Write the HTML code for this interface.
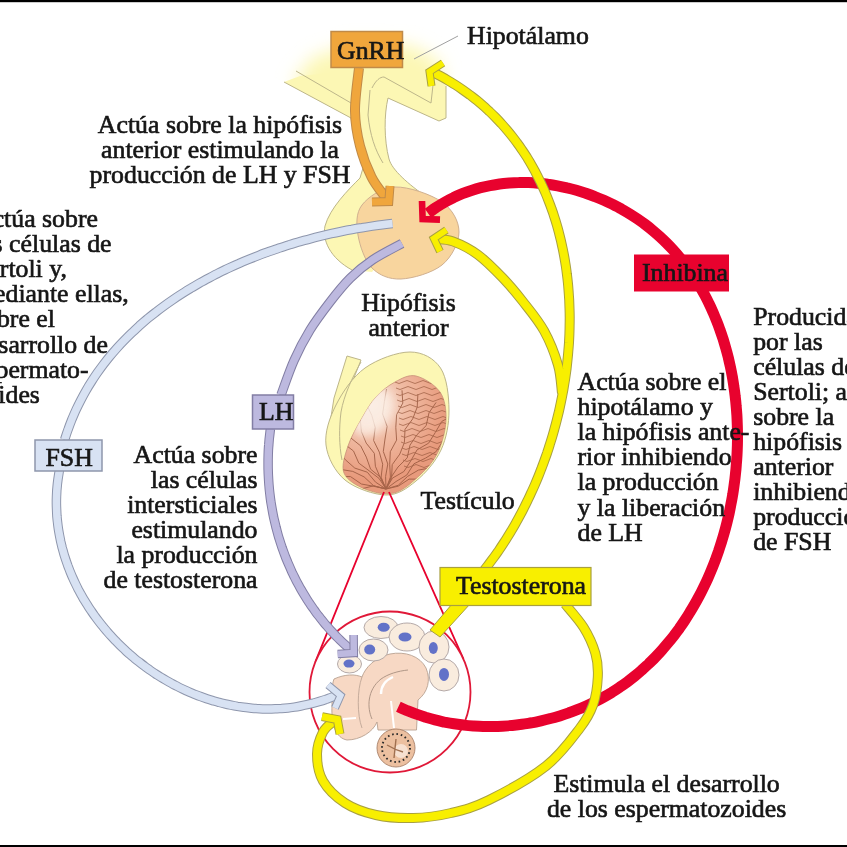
<!DOCTYPE html>
<html><head><meta charset="utf-8"><style>
html,body{margin:0;padding:0;background:#fff;width:847px;height:847px;overflow:hidden}
svg{display:block;filter:blur(0.7px)}
text{font-family:"Liberation Serif",serif}
</style></head><body>
<svg width="847" height="847" viewBox="0 0 847 847">
<rect width="847" height="847" fill="#fff"/>
<defs>
<radialGradient id="hypg" gradientUnits="userSpaceOnUse" cx="375" cy="100" r="85">
 <stop offset="0" stop-color="#fcf5b6"/>
 <stop offset="0.5" stop-color="#fcf5b6"/>
 <stop offset="1" stop-color="#fcf5b6" stop-opacity="0"/>
</radialGradient>
<radialGradient id="testg" gradientUnits="userSpaceOnUse" cx="372" cy="405" r="75">
 <stop offset="0" stop-color="#fbeee6"/>
 <stop offset="0.45" stop-color="#f0bca4"/>
 <stop offset="1" stop-color="#e89a7c"/>
</radialGradient>
<filter id="soft2" x="-50%" y="-50%" width="200%" height="200%"><feGaussianBlur stdDeviation="5"/></filter>
<filter id="soft" x="-50%" y="-50%" width="200%" height="200%"><feGaussianBlur stdDeviation="9"/></filter>
</defs><clipPath id="hypclip"><path d="M284 82 L351 118 L388 98 L439 121 L446 118 L446 86 L520 0 L200 0 L230 60 Z"/></clipPath><g clip-path="url(#hypclip)"><path d="M292 84 L312 58 L352 44 L412 46 L440 62 L446 120 L390 100 L351 118 Z" fill="#fcf7b4" filter="url(#soft)"/></g><path d="M284 82 L351 118 C355 135 360 155 363 168 L360 178 C348 190 330 208 325 226 C322 240 330 258 352 270 L372 272 L400 240 L428 198 C408 184 392 170 389 159 C384 140 384 115 388 98 L439 121 L446 118 L446 86 C440 80 430 74 420 72 L400 70 L340 72 L300 76 Z" fill="#fcf7b4"/><path d="M284 82 L351 118 C355 135 360 155 363 168 L360 178 C348 190 330 208 325 226 C322 240 330 258 352 270" fill="none" stroke="#bdb68a" stroke-width="1"/><path d="M428 198 C408 184 392 170 389 159 C384 140 384 115 388 98 L439 121 L446 118 L446 86" fill="none" stroke="#bdb68a" stroke-width="1"/><path d="M296 71 L351 103" fill="none" stroke="#bdb68a" stroke-width="1"/><path d="M370 90 L368 115 C370 135 375 150 383 163 M372 88 C376 80 380 77 384 77 L431 103 L433 85" fill="none" stroke="#bdb68a" stroke-width="1"/><path d="M395.0 187.0 C408.3 186.5 431.3 194.5 442.0 202.0 C452.7 209.5 459.0 221.5 459.0 232.0 C459.0 242.5 451.7 257.2 442.0 265.0 C432.3 272.8 412.7 278.5 401.0 279.0 C389.3 279.5 379.2 275.3 372.0 268.0 C364.8 260.7 359.7 245.5 358.0 235.0 C356.3 224.5 355.8 213.0 362.0 205.0 C368.2 197.0 381.7 187.5 395.0 187.0Z" fill="#f8d59e" stroke="#d0b090" stroke-width="1"/><path d="M458 36 L414 59" stroke="#a0a0a0" stroke-width="1"/><path d="M347 356 L361 360 L346 398 L339 440 L328 436 L334 398 Z" fill="#fcf7b4" stroke="#bdb68a" stroke-width="1"/><path d="M410.0 352.0 C422.6 352.0 434.0 358.3 440.5 368.0 C447.0 377.7 448.9 396.3 449.0 410.0 C449.1 423.7 446.5 438.2 441.0 450.0 C435.5 461.8 425.2 473.5 416.0 481.0 C406.8 488.5 397.8 495.2 386.0 495.0 C374.2 494.8 355.0 488.3 345.0 480.0 C335.0 471.7 327.5 457.5 326.0 445.0 C324.5 432.5 329.5 417.8 336.0 405.0 C342.5 392.2 352.7 376.8 365.0 368.0 C377.3 359.2 397.4 352.0 410.0 352.0Z" fill="#fcf7b4" stroke="#bdb68a" stroke-width="1"/><path d="M361 362 C352 378 344 395 341 412 C339 428 339 445 342 460" fill="none" stroke="#bdb68a" stroke-width="1"/><path d="M416.0 376.0 C423.5 377.7 435.0 384.7 440.0 392.0 C445.0 399.3 446.3 410.0 446.0 420.0 C445.7 430.0 442.3 442.8 438.0 452.0 C433.7 461.2 427.3 468.2 420.0 475.0 C412.7 481.8 403.2 490.7 394.0 493.0 C384.8 495.3 373.3 492.3 365.0 489.0 C356.7 485.7 346.8 480.2 344.0 473.0 C341.2 465.8 345.0 455.2 348.0 446.0 C351.0 436.8 357.3 426.2 362.0 418.0 C366.7 409.8 370.5 403.0 376.0 397.0 C381.5 391.0 388.3 385.5 395.0 382.0 C401.7 378.5 408.5 374.3 416.0 376.0Z" fill="url(#testg)" stroke="#c89078" stroke-width="0.8"/><clipPath id="tclip"><path d="M416.0 376.0 C423.5 377.7 435.0 384.7 440.0 392.0 C445.0 399.3 446.3 410.0 446.0 420.0 C445.7 430.0 442.3 442.8 438.0 452.0 C433.7 461.2 427.3 468.2 420.0 475.0 C412.7 481.8 403.2 490.7 394.0 493.0 C384.8 495.3 373.3 492.3 365.0 489.0 C356.7 485.7 346.8 480.2 344.0 473.0 C341.2 465.8 345.0 455.2 348.0 446.0 C351.0 436.8 357.3 426.2 362.0 418.0 C366.7 409.8 370.5 403.0 376.0 397.0 C381.5 391.0 388.3 385.5 395.0 382.0 C401.7 378.5 408.5 374.3 416.0 376.0Z"/></clipPath><g clip-path="url(#tclip)"><g stroke="#9a5a40" stroke-width="1" fill="none" opacity="0.85"><path d="M386 489 L373.7 485.8 L360.9 489.0 L348.6 485.7 L336.4 482.5 L323.5 485.7 L311.3 482.4 L299.0 479.3 L286.2 482.5"/><path d="M386 489 L373.8 486.3 L361.4 484.0 L350.5 476.6 L337.6 476.3 L325.3 474.0 L314.4 466.6 L301.5 466.3 L289.2 463.9"/><path d="M386 489 L373.7 485.8 L364.1 476.9 L352.8 471.4 L340.0 469.3 L330.4 460.5 L319.1 455.0 L306.3 452.9 L296.7 444.0"/><path d="M386 489 L375.5 482.1 L367.3 472.2 L354.8 468.1 L345.4 459.8 L337.2 449.9 L324.7 445.8 L315.3 437.4 L307.0 427.6"/><path d="M386 489 L379.0 478.4 L369.0 470.7 L358.8 463.1 L353.5 451.0 L343.4 443.3 L333.3 435.6 L327.9 423.5 L317.8 415.9"/><path d="M386 489 L380.8 477.5 L370.6 469.2 L366.3 457.1 L360.7 445.9 L350.4 437.6 L346.2 425.4 L340.5 414.2 L330.2 406.0"/><path d="M386 489 L380.3 477.8 L375.4 466.3 L374.3 453.3 L366.2 443.1 L361.4 431.5 L360.2 418.5 L352.1 408.3 L347.4 396.8"/><path d="M386 489 L381.1 477.2 L382.7 464.2 L379.3 452.1 L373.6 440.5 L375.2 427.4 L371.8 415.4 L366.2 403.7 L367.8 390.7"/><path d="M386 489 L385.6 476.5 L387.8 464.0 L383.3 451.5 L385.0 439.0 L387.1 426.5 L382.6 414.0 L384.4 401.5 L386.5 389.0"/><path d="M386 489 L390.4 477.1 L389.7 464.3 L390.3 451.7 L396.6 440.1 L395.8 427.3 L396.6 414.7 L402.8 403.1 L402.0 390.3"/><path d="M386 489 L391.6 477.7 L392.2 464.7 L399.8 454.1 L404.4 442.5 L405.0 429.4 L412.7 418.9 L417.2 407.2 L417.9 394.2"/><path d="M386 489 L391.0 477.4 L398.0 467.0 L407.2 457.9 L410.0 445.1 L417.0 434.7 L426.2 425.6 L429.0 412.8 L436.1 402.4"/><path d="M386 489 L392.5 478.1 L403.9 471.5 L410.8 460.8 L417.1 449.8 L428.6 443.2 L435.3 432.5 L441.7 421.5 L453.2 414.9"/><path d="M386 489 L396.0 481.5 L406.8 475.0 L413.9 463.8 L425.4 458.2 L436.1 451.6 L443.2 440.5 L454.8 434.9 L465.4 428.2"/><path d="M386 489 L398.2 485.3 L407.6 476.4 L418.4 470.1 L431.3 467.7 L440.7 458.7 L451.5 452.5 L464.4 450.1 L473.8 441.1"/><path d="M386 489 L398.2 486.2 L409.1 479.1 L422.2 479.2 L434.0 474.8 L444.9 467.9 L458.0 468.0 L469.7 463.5 L480.6 456.6"/><path d="M395 382 q4 3 8 0 q4 -3 8 0 q4 3 8 0 q4 -3 8 0 q4 3 8 0 q4 -3 8 0" opacity="0.8"/><path d="M396 388 q4 3 8 0 q4 -3 8 0 q4 3 8 0 q4 -3 8 0 q4 3 8 0 q4 -3 8 0" opacity="0.8"/><path d="M396 394 q4 3 8 0 q4 -3 8 0 q4 3 8 0 q4 -3 8 0 q4 3 8 0 q4 -3 8 0" opacity="0.8"/><path d="M397 400 q4 3 8 0 q4 -3 8 0 q4 3 8 0 q4 -3 8 0 q4 3 8 0 q4 -3 8 0" opacity="0.8"/><path d="M398 406 q4 3 8 0 q4 -3 8 0 q4 3 8 0 q4 -3 8 0 q4 3 8 0 q4 -3 8 0" opacity="0.8"/><path d="M398 412 q4 3 8 0 q4 -3 8 0 q4 3 8 0 q4 -3 8 0 q4 3 8 0 q4 -3 8 0" opacity="0.8"/><path d="M399 418 q4 3 8 0 q4 -3 8 0 q4 3 8 0 q4 -3 8 0 q4 3 8 0 q4 -3 8 0" opacity="0.8"/><path d="M399 424 q4 3 8 0 q4 -3 8 0 q4 3 8 0 q4 -3 8 0 q4 3 8 0 q4 -3 8 0" opacity="0.8"/><path d="M400 430 q4 3 8 0 q4 -3 8 0 q4 3 8 0 q4 -3 8 0 q4 3 8 0 q4 -3 8 0" opacity="0.8"/><path d="M401 436 q4 3 8 0 q4 -3 8 0 q4 3 8 0 q4 -3 8 0 q4 3 8 0 q4 -3 8 0" opacity="0.8"/><path d="M401 442 q4 3 8 0 q4 -3 8 0 q4 3 8 0 q4 -3 8 0 q4 3 8 0 q4 -3 8 0" opacity="0.8"/><path d="M402 448 q4 3 8 0 q4 -3 8 0 q4 3 8 0 q4 -3 8 0 q4 3 8 0 q4 -3 8 0" opacity="0.8"/><path d="M402 454 q4 3 8 0 q4 -3 8 0 q4 3 8 0 q4 -3 8 0 q4 3 8 0 q4 -3 8 0" opacity="0.8"/><path d="M403 460 q4 3 8 0 q4 -3 8 0 q4 3 8 0 q4 -3 8 0 q4 3 8 0 q4 -3 8 0" opacity="0.8"/><path d="M404 466 q4 3 8 0 q4 -3 8 0 q4 3 8 0 q4 -3 8 0 q4 3 8 0 q4 -3 8 0" opacity="0.8"/></g><ellipse cx="372" cy="412" rx="18" ry="26" transform="rotate(35 372 412)" fill="#fbeee4" opacity="0.85" filter="url(#soft2)"/></g><path d="M384 492 L315.4 661.8 M389 492 L463.5 659.2" stroke="#e8022e" stroke-width="1.8" fill="none"/><circle cx="390" cy="692" r="80.5" fill="#ffffff" stroke="#e01838" stroke-width="1.8"/><path d="M334 679 C345 674 355 674 362 677 C365 668 375 657 390 654 C405 651 420 656 426 668 C431 680 428 692 418 700 L416.5 730 L378 730 L377 722 C373 732 360 740 347 740 C336 738 331 725 332 705 C332 692 332 684 334 679 Z" fill="#f7d8c4" stroke="#b8a090" stroke-width="0.9"/><path d="M372 719 C367 708 367 690 381 679 C388 674 398 671 408 670" fill="none" stroke="#a89080" stroke-width="0.9"/><path d="M381 694 C381 686 386 680 393 677" fill="none" stroke="#ffffff" stroke-width="2.4"/><path d="M391 701 L394 728" fill="none" stroke="#ffffff" stroke-width="2"/><path d="M343 719 L356 718" fill="none" stroke="#ffffff" stroke-width="1.8"/><path d="M362 677 C357 690 357 715 362 728" fill="none" stroke="#b8a090" stroke-width="0.8"/><circle cx="396" cy="748" r="19" fill="#ecc0a0" stroke="#a88068" stroke-width="0.9"/><circle cx="401" cy="751" r="7" fill="#f8e4d6" opacity="0.9"/><circle cx="396" cy="748" r="14" fill="none" stroke="#2a2a2a" stroke-width="1.9" stroke-dasharray="1.6 2.8"/><path d="M387 745 C392 748 396 750 403 752 M396 739 L394 758" stroke="#a07050" stroke-width="1.4" fill="none"/><ellipse cx="381" cy="627.5" rx="17" ry="11" fill="#f9ecde" stroke="#aca0a0" stroke-width="0.9"/><ellipse cx="383.7" cy="627.3" rx="6" ry="4.5" fill="#6272c8"/><ellipse cx="407" cy="637" rx="18" ry="14" fill="#f9ecde" stroke="#aca0a0" stroke-width="0.9"/><ellipse cx="405" cy="637" rx="6.5" ry="4.5" fill="#6272c8"/><ellipse cx="373.5" cy="650" rx="14.5" ry="11" fill="#f9ecde" stroke="#aca0a0" stroke-width="0.9"/><ellipse cx="369.7" cy="649.6" rx="5.5" ry="5" fill="#6272c8"/><ellipse cx="434" cy="647" rx="15" ry="16" fill="#f9ecde" stroke="#aca0a0" stroke-width="0.9"/><ellipse cx="433.3" cy="648" rx="4.5" ry="6" fill="#6272c8"/><ellipse cx="349.5" cy="664" rx="12" ry="9" fill="#f9ecde" stroke="#aca0a0" stroke-width="0.9"/><ellipse cx="349" cy="663.6" rx="5.5" ry="4" fill="#6272c8"/><ellipse cx="444" cy="675" rx="15" ry="16" fill="#f9ecde" stroke="#aca0a0" stroke-width="0.9"/><ellipse cx="444" cy="674.4" rx="5" ry="6.5" fill="#6272c8"/><path d="M392.5 223.5 C390.8 223.7 385.8 224.3 382.4 224.7 C379.0 225.1 375.6 225.6 372.2 226.1 C368.8 226.6 365.4 227.1 362.0 227.7 C358.6 228.2 355.1 228.8 351.7 229.5 C348.3 230.1 344.8 230.8 341.4 231.5 C337.9 232.2 334.5 232.9 331.0 233.7 C327.6 234.5 324.1 235.3 320.6 236.1 C317.2 237.0 313.7 237.9 310.3 238.8 C306.8 239.7 303.3 240.7 299.9 241.6 C296.4 242.6 293.0 243.7 289.5 244.7 C286.1 245.8 282.7 246.9 279.2 248.1 C275.8 249.2 272.4 250.4 269.0 251.6 C265.6 252.8 262.2 254.1 258.8 255.4 C255.4 256.7 252.1 258.0 248.7 259.4 C245.4 260.7 242.0 262.1 238.7 263.6 C235.4 265.0 232.1 266.5 228.9 268.0 C225.6 269.6 222.3 271.1 219.1 272.7 C215.9 274.3 212.7 276.0 209.5 277.7 C206.3 279.4 203.1 281.1 200.0 282.8 C196.9 284.6 193.8 286.4 190.7 288.3 C187.6 290.1 184.6 292.0 181.6 293.9 C178.6 295.8 175.6 297.8 172.7 299.8 C169.7 301.8 166.8 303.9 164.0 306.0 C161.1 308.1 158.3 310.2 155.5 312.4 C152.7 314.5 149.9 316.8 147.2 319.0 C144.5 321.3 141.9 323.6 139.2 325.9 C136.6 328.3 134.0 330.7 131.5 333.1 C129.0 335.5 126.5 338.0 124.1 340.5 C121.6 343.0 119.2 345.6 116.9 348.2 C114.6 350.8 112.3 353.4 110.0 356.1 C107.8 358.8 105.6 361.6 103.5 364.3 C101.4 367.1 99.3 370.0 97.3 372.8 C95.3 375.7 93.4 378.6 91.5 381.6 C89.6 384.5 87.8 387.5 86.0 390.6 C84.3 393.6 82.6 396.7 80.9 399.9 C79.3 403.0 77.7 406.2 76.2 409.4 C74.7 412.7 73.3 416.0 71.9 419.3 C70.6 422.6 69.3 426.0 68.1 429.4 C66.8 432.8 65.2 438.1 64.6 439.8" fill="none" stroke="#8e96ac" stroke-width="9.5" stroke-linecap="butt"/><path d="M392.5 223.5 C390.8 223.7 385.8 224.3 382.4 224.7 C379.0 225.1 375.6 225.6 372.2 226.1 C368.8 226.6 365.4 227.1 362.0 227.7 C358.6 228.2 355.1 228.8 351.7 229.5 C348.3 230.1 344.8 230.8 341.4 231.5 C337.9 232.2 334.5 232.9 331.0 233.7 C327.6 234.5 324.1 235.3 320.6 236.1 C317.2 237.0 313.7 237.9 310.3 238.8 C306.8 239.7 303.3 240.7 299.9 241.6 C296.4 242.6 293.0 243.7 289.5 244.7 C286.1 245.8 282.7 246.9 279.2 248.1 C275.8 249.2 272.4 250.4 269.0 251.6 C265.6 252.8 262.2 254.1 258.8 255.4 C255.4 256.7 252.1 258.0 248.7 259.4 C245.4 260.7 242.0 262.1 238.7 263.6 C235.4 265.0 232.1 266.5 228.9 268.0 C225.6 269.6 222.3 271.1 219.1 272.7 C215.9 274.3 212.7 276.0 209.5 277.7 C206.3 279.4 203.1 281.1 200.0 282.8 C196.9 284.6 193.8 286.4 190.7 288.3 C187.6 290.1 184.6 292.0 181.6 293.9 C178.6 295.8 175.6 297.8 172.7 299.8 C169.7 301.8 166.8 303.9 164.0 306.0 C161.1 308.1 158.3 310.2 155.5 312.4 C152.7 314.5 149.9 316.8 147.2 319.0 C144.5 321.3 141.9 323.6 139.2 325.9 C136.6 328.3 134.0 330.7 131.5 333.1 C129.0 335.5 126.5 338.0 124.1 340.5 C121.6 343.0 119.2 345.6 116.9 348.2 C114.6 350.8 112.3 353.4 110.0 356.1 C107.8 358.8 105.6 361.6 103.5 364.3 C101.4 367.1 99.3 370.0 97.3 372.8 C95.3 375.7 93.4 378.6 91.5 381.6 C89.6 384.5 87.8 387.5 86.0 390.6 C84.3 393.6 82.6 396.7 80.9 399.9 C79.3 403.0 77.7 406.2 76.2 409.4 C74.7 412.7 73.3 416.0 71.9 419.3 C70.6 422.6 69.3 426.0 68.1 429.4 C66.8 432.8 65.2 438.1 64.6 439.8" fill="none" stroke="#d8e2f3" stroke-width="7.5" stroke-linecap="butt"/><path d="M59.3 470.6 C59.2 471.7 58.6 475.0 58.3 477.2 C57.9 479.4 57.7 481.6 57.4 483.8 C57.2 486.0 57.0 488.2 56.8 490.4 C56.7 492.5 56.6 494.7 56.5 496.9 C56.4 499.1 56.4 501.2 56.4 503.4 C56.4 505.5 56.5 507.7 56.6 509.8 C56.7 512.0 56.8 514.1 56.9 516.3 C57.1 518.4 57.3 520.5 57.6 522.7 C57.8 524.8 58.1 526.9 58.4 529.0 C58.7 531.1 59.1 533.2 59.5 535.3 C59.9 537.4 60.3 539.5 60.7 541.5 C61.2 543.6 61.7 545.7 62.2 547.7 C62.8 549.8 63.3 551.8 63.9 553.8 C64.5 555.9 65.2 557.9 65.8 559.9 C66.5 561.9 67.2 563.9 67.9 565.9 C68.7 567.9 69.4 569.9 70.2 571.8 C71.0 573.8 71.8 575.7 72.7 577.7 C73.5 579.6 74.4 581.5 75.4 583.5 C76.3 585.4 77.2 587.3 78.2 589.2 C79.2 591.0 80.2 592.9 81.2 594.8 C82.3 596.6 83.3 598.5 84.4 600.3 C85.5 602.1 86.6 603.9 87.8 605.7 C88.9 607.5 90.1 609.3 91.3 611.0 C92.5 612.8 93.7 614.6 95.0 616.3 C96.2 618.0 97.5 619.7 98.8 621.4 C100.1 623.1 101.4 624.8 102.8 626.4 C104.1 628.1 105.5 629.7 106.9 631.3 C108.3 633.0 109.7 634.6 111.2 636.1 C112.6 637.7 114.1 639.3 115.6 640.8 C117.1 642.4 118.6 643.9 120.1 645.4 C121.6 646.9 123.2 648.4 124.8 649.8 C126.3 651.3 127.9 652.7 129.5 654.1 C131.2 655.5 132.8 656.9 134.4 658.3 C136.1 659.7 137.8 661.0 139.5 662.3 C141.1 663.6 142.8 664.9 144.6 666.2 C146.3 667.5 148.0 668.7 149.8 670.0 C151.5 671.2 153.3 672.4 155.1 673.6 C156.9 674.7 158.7 675.9 160.5 677.0 C162.3 678.1 164.2 679.2 166.0 680.3 C167.9 681.4 169.7 682.4 171.6 683.4 C173.5 684.5 175.4 685.4 177.3 686.4 C179.2 687.4 181.1 688.3 183.0 689.2 C184.9 690.1 186.9 691.0 188.8 691.8 C190.8 692.7 192.8 693.5 194.7 694.3 C196.7 695.1 198.7 695.9 200.7 696.6 C202.7 697.3 204.7 698.0 206.7 698.7 C208.7 699.4 210.7 700.0 212.7 700.6 C214.8 701.2 216.8 701.8 218.8 702.3 C220.9 702.9 222.9 703.4 225.0 703.9 C227.1 704.4 229.1 704.8 231.2 705.2 C233.3 705.6 235.3 706.0 237.4 706.4 C239.5 706.7 241.6 707.0 243.7 707.3 C245.8 707.6 247.9 707.8 250.0 708.0 C252.1 708.3 254.2 708.4 256.3 708.6 C258.4 708.7 260.5 708.8 262.6 708.9 C264.7 708.9 266.8 709.0 268.9 709.0 C271.1 709.0 273.2 708.9 275.3 708.8 C277.4 708.8 279.5 708.6 281.6 708.5 C283.8 708.3 285.9 708.1 288.0 707.9 C290.1 707.7 292.2 707.4 294.3 707.1 C296.5 706.8 298.6 706.4 300.7 706.0 C302.8 705.6 304.9 705.2 307.0 704.7 C309.1 704.2 311.2 703.7 313.3 703.2 C315.4 702.6 317.5 702.0 319.6 701.4 C321.7 700.8 323.8 700.1 325.8 699.4 C327.9 698.6 330.0 697.9 332.1 697.1 C334.1 696.2 337.2 694.9 338.3 694.5" fill="none" stroke="#8e96ac" stroke-width="9.5" stroke-linecap="butt"/><path d="M59.3 470.6 C59.2 471.7 58.6 475.0 58.3 477.2 C57.9 479.4 57.7 481.6 57.4 483.8 C57.2 486.0 57.0 488.2 56.8 490.4 C56.7 492.5 56.6 494.7 56.5 496.9 C56.4 499.1 56.4 501.2 56.4 503.4 C56.4 505.5 56.5 507.7 56.6 509.8 C56.7 512.0 56.8 514.1 56.9 516.3 C57.1 518.4 57.3 520.5 57.6 522.7 C57.8 524.8 58.1 526.9 58.4 529.0 C58.7 531.1 59.1 533.2 59.5 535.3 C59.9 537.4 60.3 539.5 60.7 541.5 C61.2 543.6 61.7 545.7 62.2 547.7 C62.8 549.8 63.3 551.8 63.9 553.8 C64.5 555.9 65.2 557.9 65.8 559.9 C66.5 561.9 67.2 563.9 67.9 565.9 C68.7 567.9 69.4 569.9 70.2 571.8 C71.0 573.8 71.8 575.7 72.7 577.7 C73.5 579.6 74.4 581.5 75.4 583.5 C76.3 585.4 77.2 587.3 78.2 589.2 C79.2 591.0 80.2 592.9 81.2 594.8 C82.3 596.6 83.3 598.5 84.4 600.3 C85.5 602.1 86.6 603.9 87.8 605.7 C88.9 607.5 90.1 609.3 91.3 611.0 C92.5 612.8 93.7 614.6 95.0 616.3 C96.2 618.0 97.5 619.7 98.8 621.4 C100.1 623.1 101.4 624.8 102.8 626.4 C104.1 628.1 105.5 629.7 106.9 631.3 C108.3 633.0 109.7 634.6 111.2 636.1 C112.6 637.7 114.1 639.3 115.6 640.8 C117.1 642.4 118.6 643.9 120.1 645.4 C121.6 646.9 123.2 648.4 124.8 649.8 C126.3 651.3 127.9 652.7 129.5 654.1 C131.2 655.5 132.8 656.9 134.4 658.3 C136.1 659.7 137.8 661.0 139.5 662.3 C141.1 663.6 142.8 664.9 144.6 666.2 C146.3 667.5 148.0 668.7 149.8 670.0 C151.5 671.2 153.3 672.4 155.1 673.6 C156.9 674.7 158.7 675.9 160.5 677.0 C162.3 678.1 164.2 679.2 166.0 680.3 C167.9 681.4 169.7 682.4 171.6 683.4 C173.5 684.5 175.4 685.4 177.3 686.4 C179.2 687.4 181.1 688.3 183.0 689.2 C184.9 690.1 186.9 691.0 188.8 691.8 C190.8 692.7 192.8 693.5 194.7 694.3 C196.7 695.1 198.7 695.9 200.7 696.6 C202.7 697.3 204.7 698.0 206.7 698.7 C208.7 699.4 210.7 700.0 212.7 700.6 C214.8 701.2 216.8 701.8 218.8 702.3 C220.9 702.9 222.9 703.4 225.0 703.9 C227.1 704.4 229.1 704.8 231.2 705.2 C233.3 705.6 235.3 706.0 237.4 706.4 C239.5 706.7 241.6 707.0 243.7 707.3 C245.8 707.6 247.9 707.8 250.0 708.0 C252.1 708.3 254.2 708.4 256.3 708.6 C258.4 708.7 260.5 708.8 262.6 708.9 C264.7 708.9 266.8 709.0 268.9 709.0 C271.1 709.0 273.2 708.9 275.3 708.8 C277.4 708.8 279.5 708.6 281.6 708.5 C283.8 708.3 285.9 708.1 288.0 707.9 C290.1 707.7 292.2 707.4 294.3 707.1 C296.5 706.8 298.6 706.4 300.7 706.0 C302.8 705.6 304.9 705.2 307.0 704.7 C309.1 704.2 311.2 703.7 313.3 703.2 C315.4 702.6 317.5 702.0 319.6 701.4 C321.7 700.8 323.8 700.1 325.8 699.4 C327.9 698.6 330.0 697.9 332.1 697.1 C334.1 696.2 337.2 694.9 338.3 694.5" fill="none" stroke="#d8e2f3" stroke-width="7.5" stroke-linecap="butt"/><rect x="35" y="440" width="67" height="31" fill="#d8e2f3" stroke="#8e96ac" stroke-width="1.5"/><path d="M402.0 243.5 C397.1 246.2 381.0 254.2 372.4 260.0 C363.8 265.8 357.5 271.0 350.4 278.0 C343.3 285.0 336.7 293.3 330.0 302.0 C323.3 310.7 316.0 320.2 310.0 330.0 C304.0 339.8 298.8 349.7 294.0 360.5 C289.2 371.3 283.2 389.2 281.0 395.0" fill="none" stroke="#827ea4" stroke-width="9.5" stroke-linecap="butt"/><path d="M402.0 243.5 C397.1 246.2 381.0 254.2 372.4 260.0 C363.8 265.8 357.5 271.0 350.4 278.0 C343.3 285.0 336.7 293.3 330.0 302.0 C323.3 310.7 316.0 320.2 310.0 330.0 C304.0 339.8 298.8 349.7 294.0 360.5 C289.2 371.3 283.2 389.2 281.0 395.0" fill="none" stroke="#bdb9df" stroke-width="7.5" stroke-linecap="butt"/><path d="M270.4 428.9 C270.3 429.8 270.0 432.4 269.8 434.1 C269.6 435.9 269.4 437.6 269.2 439.3 C269.1 441.1 268.9 442.8 268.8 444.6 C268.6 446.3 268.5 448.1 268.4 449.8 C268.3 451.6 268.3 453.3 268.2 455.1 C268.2 456.8 268.1 458.6 268.1 460.3 C268.1 462.1 268.1 463.8 268.1 465.6 C268.1 467.3 268.1 469.1 268.2 470.8 C268.2 472.6 268.3 474.3 268.4 476.0 C268.5 477.8 268.6 479.5 268.7 481.3 C268.8 483.0 268.9 484.8 269.1 486.5 C269.2 488.2 269.4 490.0 269.6 491.7 C269.8 493.4 270.0 495.2 270.2 496.9 C270.4 498.6 270.7 500.4 270.9 502.1 C271.2 503.8 271.5 505.5 271.8 507.3 C272.1 509.0 272.4 510.7 272.7 512.4 C273.0 514.1 273.4 515.8 273.7 517.5 C274.1 519.2 274.5 520.9 274.9 522.6 C275.3 524.3 275.7 526.0 276.1 527.7 C276.6 529.4 277.0 531.1 277.5 532.8 C277.9 534.4 278.4 536.1 278.9 537.8 C279.4 539.4 279.9 541.1 280.5 542.8 C281.0 544.4 281.6 546.1 282.1 547.7 C282.7 549.3 283.3 551.0 283.9 552.6 C284.5 554.2 285.1 555.9 285.7 557.5 C286.4 559.1 287.0 560.7 287.7 562.3 C288.4 563.9 289.1 565.5 289.8 567.1 C290.5 568.7 291.2 570.3 291.9 571.9 C292.7 573.4 293.4 575.0 294.2 576.6 C294.9 578.1 295.7 579.7 296.5 581.2 C297.3 582.7 298.2 584.3 299.0 585.8 C299.8 587.3 300.7 588.8 301.5 590.3 C302.4 591.8 303.3 593.3 304.2 594.8 C305.1 596.3 306.0 597.8 307.0 599.3 C307.9 600.7 308.8 602.2 309.8 603.6 C310.8 605.1 311.8 606.5 312.8 607.9 C313.8 609.3 314.8 610.8 315.8 612.2 C316.8 613.6 317.9 615.0 319.0 616.3 C320.0 617.7 321.1 619.1 322.2 620.4 C323.3 621.8 324.4 623.1 325.5 624.5 C326.7 625.8 327.8 627.1 329.0 628.4 C330.1 629.8 331.3 631.0 332.5 632.3 C333.7 633.6 334.9 634.9 336.1 636.1 C337.4 637.4 338.6 638.6 339.9 639.9 C341.1 641.1 342.4 642.3 343.7 643.5 C345.0 644.7 346.3 645.9 347.6 647.1 C348.9 648.3 350.9 650.0 351.6 650.6" fill="none" stroke="#827ea4" stroke-width="9.5" stroke-linecap="butt"/><path d="M270.4 428.9 C270.3 429.8 270.0 432.4 269.8 434.1 C269.6 435.9 269.4 437.6 269.2 439.3 C269.1 441.1 268.9 442.8 268.8 444.6 C268.6 446.3 268.5 448.1 268.4 449.8 C268.3 451.6 268.3 453.3 268.2 455.1 C268.2 456.8 268.1 458.6 268.1 460.3 C268.1 462.1 268.1 463.8 268.1 465.6 C268.1 467.3 268.1 469.1 268.2 470.8 C268.2 472.6 268.3 474.3 268.4 476.0 C268.5 477.8 268.6 479.5 268.7 481.3 C268.8 483.0 268.9 484.8 269.1 486.5 C269.2 488.2 269.4 490.0 269.6 491.7 C269.8 493.4 270.0 495.2 270.2 496.9 C270.4 498.6 270.7 500.4 270.9 502.1 C271.2 503.8 271.5 505.5 271.8 507.3 C272.1 509.0 272.4 510.7 272.7 512.4 C273.0 514.1 273.4 515.8 273.7 517.5 C274.1 519.2 274.5 520.9 274.9 522.6 C275.3 524.3 275.7 526.0 276.1 527.7 C276.6 529.4 277.0 531.1 277.5 532.8 C277.9 534.4 278.4 536.1 278.9 537.8 C279.4 539.4 279.9 541.1 280.5 542.8 C281.0 544.4 281.6 546.1 282.1 547.7 C282.7 549.3 283.3 551.0 283.9 552.6 C284.5 554.2 285.1 555.9 285.7 557.5 C286.4 559.1 287.0 560.7 287.7 562.3 C288.4 563.9 289.1 565.5 289.8 567.1 C290.5 568.7 291.2 570.3 291.9 571.9 C292.7 573.4 293.4 575.0 294.2 576.6 C294.9 578.1 295.7 579.7 296.5 581.2 C297.3 582.7 298.2 584.3 299.0 585.8 C299.8 587.3 300.7 588.8 301.5 590.3 C302.4 591.8 303.3 593.3 304.2 594.8 C305.1 596.3 306.0 597.8 307.0 599.3 C307.9 600.7 308.8 602.2 309.8 603.6 C310.8 605.1 311.8 606.5 312.8 607.9 C313.8 609.3 314.8 610.8 315.8 612.2 C316.8 613.6 317.9 615.0 319.0 616.3 C320.0 617.7 321.1 619.1 322.2 620.4 C323.3 621.8 324.4 623.1 325.5 624.5 C326.7 625.8 327.8 627.1 329.0 628.4 C330.1 629.8 331.3 631.0 332.5 632.3 C333.7 633.6 334.9 634.9 336.1 636.1 C337.4 637.4 338.6 638.6 339.9 639.9 C341.1 641.1 342.4 642.3 343.7 643.5 C345.0 644.7 346.3 645.9 347.6 647.1 C348.9 648.3 350.9 650.0 351.6 650.6" fill="none" stroke="#bdb9df" stroke-width="7.5" stroke-linecap="butt"/><rect x="252.5" y="395" width="41" height="34" fill="#bdb9df" stroke="#827ea4" stroke-width="1.5"/><path d="M428.0 213.3 C429.4 212.3 433.4 209.3 436.2 207.4 C439.0 205.6 441.8 203.8 444.7 202.2 C447.5 200.6 450.4 199.1 453.4 197.7 C456.3 196.2 459.3 194.9 462.3 193.7 C465.3 192.5 468.3 191.4 471.4 190.4 C474.5 189.4 477.5 188.5 480.7 187.7 C483.8 186.9 486.9 186.2 490.1 185.6 C493.2 185.0 496.4 184.5 499.6 184.0 C502.8 183.6 506.0 183.3 509.2 183.0 C512.4 182.8 515.6 182.6 518.8 182.6 C522.0 182.5 525.3 182.5 528.5 182.6 C531.7 182.7 535.0 182.9 538.2 183.2 C541.4 183.5 544.6 183.8 547.8 184.3 C551.1 184.7 554.3 185.2 557.5 185.8 C560.7 186.4 563.8 187.1 567.0 187.9 C570.2 188.6 573.3 189.4 576.4 190.3 C579.6 191.2 582.7 192.2 585.8 193.2 C588.9 194.3 591.9 195.4 594.9 196.6 C598.0 197.7 601.0 199.0 603.9 200.3 C606.9 201.6 609.8 203.0 612.7 204.4 C615.6 205.9 618.5 207.4 621.3 208.9 C624.1 210.5 626.9 212.1 629.6 213.8 C632.3 215.5 635.0 217.2 637.6 219.0 C640.2 220.8 642.8 222.6 645.3 224.5 C647.8 226.4 650.3 228.4 652.7 230.4 C655.1 232.4 657.5 234.5 659.8 236.6 C662.1 238.7 664.3 240.8 666.5 243.0 C668.7 245.2 670.9 247.5 673.0 249.8 C675.1 252.1 677.1 254.4 679.1 256.8 C681.1 259.2 683.0 261.6 684.9 264.0 C686.7 266.5 688.6 269.0 690.3 271.6 C692.1 274.1 693.8 276.7 695.5 279.3 C697.2 281.9 698.8 284.6 700.4 287.3 C701.9 290.0 703.4 292.7 704.9 295.4 C706.4 298.2 707.8 301.0 709.1 303.8 C710.5 306.6 711.8 309.5 713.1 312.4 C714.3 315.3 715.5 318.2 716.7 321.1 C717.9 324.0 719.0 327.0 720.0 330.0 C721.1 333.0 722.1 336.0 723.1 339.0 C724.0 342.1 724.9 345.1 725.8 348.2 C726.7 351.3 727.5 354.4 728.3 357.5 C729.0 360.6 729.7 363.8 730.4 366.9 C731.1 370.1 731.7 373.3 732.3 376.5 C732.8 379.6 733.4 382.8 733.8 386.1 C734.3 389.3 734.8 392.5 735.1 395.7 C735.5 399.0 735.9 402.2 736.1 405.5 C736.4 408.7 736.7 412.0 736.9 415.3 C737.1 418.6 737.2 421.8 737.3 425.1 C737.4 428.4 737.5 431.7 737.5 435.0 C737.5 438.3 737.5 441.6 737.4 444.9 C737.3 448.2 737.2 451.5 737.0 454.8 C736.8 458.1 736.6 461.3 736.3 464.6 C736.1 467.9 735.8 471.2 735.4 474.5 C735.1 477.8 734.7 481.1 734.2 484.3 C733.8 487.6 733.3 490.9 732.8 494.1 C732.2 497.4 731.7 500.6 731.0 503.8 C730.4 507.1 729.8 510.3 729.1 513.5 C728.4 516.7 727.6 519.9 726.8 523.1 C726.0 526.3 725.2 529.4 724.3 532.6 C723.4 535.7 722.5 538.9 721.5 542.0 C720.5 545.1 719.5 548.2 718.5 551.3 C717.4 554.4 716.3 557.4 715.2 560.5 C714.0 563.5 712.9 566.5 711.6 569.5 C710.4 572.5 709.1 575.5 707.8 578.4 C706.5 581.3 705.1 584.2 703.7 587.1 C702.3 590.0 700.9 592.9 699.4 595.7 C697.9 598.5 696.4 601.3 694.8 604.1 C693.2 606.9 691.6 609.6 689.9 612.3 C688.3 615.0 686.6 617.7 684.8 620.4 C683.1 623.0 681.3 625.6 679.5 628.2 C677.6 630.7 675.7 633.3 673.8 635.8 C671.9 638.2 669.9 640.7 667.9 643.1 C665.9 645.5 663.9 647.9 661.8 650.2 C659.7 652.6 657.6 654.8 655.4 657.1 C653.3 659.3 651.0 661.5 648.8 663.7 C646.5 665.8 644.2 668.0 641.9 670.0 C639.6 672.1 637.2 674.1 634.7 676.1 C632.3 678.0 629.9 679.9 627.4 681.8 C624.8 683.7 622.3 685.5 619.7 687.2 C617.1 689.0 614.5 690.7 611.8 692.4 C609.1 694.0 606.4 695.6 603.7 697.1 C600.9 698.7 598.1 700.2 595.3 701.6 C592.4 703.0 589.6 704.4 586.7 705.7 C583.8 707.0 580.8 708.3 577.9 709.4 C574.9 710.6 571.9 711.8 568.9 712.8 C565.9 713.9 562.8 714.9 559.7 715.9 C556.7 716.8 553.6 717.7 550.4 718.5 C547.3 719.4 544.2 720.1 541.0 720.8 C537.9 721.5 534.7 722.2 531.5 722.8 C528.3 723.3 525.1 723.9 521.9 724.3 C518.7 724.7 515.5 725.1 512.2 725.4 C509.0 725.8 505.8 726.0 502.5 726.2 C499.3 726.4 496.0 726.5 492.8 726.5 C489.5 726.6 486.3 726.6 483.1 726.5 C479.8 726.4 476.6 726.2 473.3 726.0 C470.1 725.8 466.9 725.5 463.6 725.1 C460.4 724.8 457.2 724.3 454.0 723.8 C450.8 723.3 447.6 722.7 444.4 722.1 C441.3 721.4 438.1 720.7 435.0 719.9 C431.8 719.1 428.7 718.2 425.6 717.3 C422.5 716.3 419.4 715.3 416.4 714.2 C413.3 713.1 410.3 711.9 407.3 710.7 C404.3 709.4 399.9 707.4 398.4 706.7" fill="none" stroke="#e8022e" stroke-width="11"/><rect x="634" y="254.5" width="95" height="37" fill="#e8022e"/><path d="M431.7 71.6 C433.1 72.3 437.2 74.4 439.9 75.8 C442.5 77.2 445.2 78.7 447.7 80.2 C450.3 81.8 452.9 83.3 455.4 84.9 C457.9 86.5 460.3 88.1 462.7 89.8 C465.1 91.5 467.5 93.2 469.8 94.9 C472.1 96.7 474.4 98.4 476.6 100.2 C478.8 102.0 481.0 103.9 483.2 105.8 C485.3 107.6 487.4 109.6 489.5 111.5 C491.5 113.4 493.5 115.4 495.5 117.4 C497.5 119.4 499.4 121.5 501.3 123.5 C503.2 125.6 505.0 127.7 506.8 129.8 C508.6 131.9 510.4 134.1 512.1 136.3 C513.8 138.5 515.5 140.7 517.1 142.9 C518.8 145.1 520.4 147.4 521.9 149.7 C523.5 152.0 525.0 154.3 526.5 156.6 C527.9 159.0 529.4 161.3 530.8 163.7 C532.2 166.1 533.5 168.5 534.8 170.9 C536.1 173.4 537.4 175.8 538.6 178.3 C539.9 180.7 541.1 183.2 542.2 185.8 C543.4 188.3 544.5 190.8 545.6 193.3 C546.7 195.9 547.7 198.5 548.7 201.1 C549.7 203.6 550.7 206.2 551.6 208.9 C552.6 211.5 553.5 214.1 554.3 216.8 C555.2 219.4 556.0 222.1 556.8 224.8 C557.5 227.4 558.3 230.1 559.0 232.9 C559.7 235.6 560.4 238.3 561.0 241.0 C561.6 243.7 562.2 246.5 562.8 249.2 C563.4 252.0 563.9 254.8 564.4 257.5 C564.9 260.3 565.3 263.1 565.8 265.9 C566.2 268.7 566.6 271.5 566.9 274.3 C567.3 277.1 567.6 279.9 567.9 282.8 C568.2 285.6 568.4 288.4 568.6 291.2 C568.8 294.1 569.0 296.9 569.2 299.8 C569.3 302.6 569.4 305.5 569.5 308.3 C569.6 311.2 569.7 314.0 569.7 316.9 C569.7 319.8 569.7 322.6 569.6 325.5 C569.6 328.4 569.5 331.2 569.4 334.1 C569.3 337.0 569.1 339.8 569.0 342.7 C568.8 345.6 568.6 348.5 568.3 351.3 C568.1 354.2 567.8 357.1 567.5 359.9 C567.2 362.8 566.9 365.7 566.6 368.5 C566.2 371.4 565.8 374.3 565.4 377.1 C565.0 380.0 564.5 382.8 564.0 385.7 C563.6 388.5 563.1 391.4 562.5 394.2 C562.0 397.0 561.4 399.9 560.8 402.7 C560.2 405.5 559.6 408.4 559.0 411.2 C558.3 414.0 557.6 416.8 556.9 419.6 C556.2 422.4 555.5 425.2 554.7 427.9 C554.0 430.7 553.2 433.5 552.4 436.2 C551.6 439.0 550.7 441.8 549.8 444.5 C549.0 447.2 548.1 450.0 547.2 452.7 C546.2 455.4 545.3 458.1 544.3 460.8 C543.3 463.5 542.4 466.1 541.3 468.8 C540.3 471.5 539.3 474.1 538.2 476.7 C537.1 479.4 536.0 482.0 534.9 484.6 C533.8 487.2 532.6 489.8 531.4 492.3 C530.3 494.9 529.1 497.5 527.8 500.0 C526.6 502.5 525.4 505.0 524.1 507.5 C522.9 510.0 521.6 512.5 520.2 515.0 C518.9 517.4 517.6 519.9 516.2 522.3 C514.9 524.7 513.5 527.1 512.1 529.5 C510.7 531.8 509.3 534.2 507.8 536.5 C506.4 538.9 504.9 541.2 503.4 543.4 C501.9 545.7 500.4 548.0 498.9 550.2 C497.3 552.5 495.8 554.7 494.2 556.9 C492.6 559.0 491.0 561.2 489.4 563.3 C487.8 565.5 485.3 568.6 484.5 569.7" fill="none" stroke="#a8a040" stroke-width="10"/><path d="M436.0 239.0 C438.8 239.4 446.0 238.8 453.0 241.4 C460.0 244.0 469.6 248.6 477.9 254.7 C486.2 260.8 495.2 270.1 502.6 277.8 C510.0 285.5 515.6 292.2 522.5 301.0 C529.4 309.8 538.1 320.0 544.0 330.7 C549.9 341.4 555.0 354.6 558.0 365.0 C561.0 375.4 561.3 388.3 562.0 393.0" fill="none" stroke="#a8a040" stroke-width="10"/><path d="M431.7 71.6 C433.1 72.3 437.2 74.4 439.9 75.8 C442.5 77.2 445.2 78.7 447.7 80.2 C450.3 81.8 452.9 83.3 455.4 84.9 C457.9 86.5 460.3 88.1 462.7 89.8 C465.1 91.5 467.5 93.2 469.8 94.9 C472.1 96.7 474.4 98.4 476.6 100.2 C478.8 102.0 481.0 103.9 483.2 105.8 C485.3 107.6 487.4 109.6 489.5 111.5 C491.5 113.4 493.5 115.4 495.5 117.4 C497.5 119.4 499.4 121.5 501.3 123.5 C503.2 125.6 505.0 127.7 506.8 129.8 C508.6 131.9 510.4 134.1 512.1 136.3 C513.8 138.5 515.5 140.7 517.1 142.9 C518.8 145.1 520.4 147.4 521.9 149.7 C523.5 152.0 525.0 154.3 526.5 156.6 C527.9 159.0 529.4 161.3 530.8 163.7 C532.2 166.1 533.5 168.5 534.8 170.9 C536.1 173.4 537.4 175.8 538.6 178.3 C539.9 180.7 541.1 183.2 542.2 185.8 C543.4 188.3 544.5 190.8 545.6 193.3 C546.7 195.9 547.7 198.5 548.7 201.1 C549.7 203.6 550.7 206.2 551.6 208.9 C552.6 211.5 553.5 214.1 554.3 216.8 C555.2 219.4 556.0 222.1 556.8 224.8 C557.5 227.4 558.3 230.1 559.0 232.9 C559.7 235.6 560.4 238.3 561.0 241.0 C561.6 243.7 562.2 246.5 562.8 249.2 C563.4 252.0 563.9 254.8 564.4 257.5 C564.9 260.3 565.3 263.1 565.8 265.9 C566.2 268.7 566.6 271.5 566.9 274.3 C567.3 277.1 567.6 279.9 567.9 282.8 C568.2 285.6 568.4 288.4 568.6 291.2 C568.8 294.1 569.0 296.9 569.2 299.8 C569.3 302.6 569.4 305.5 569.5 308.3 C569.6 311.2 569.7 314.0 569.7 316.9 C569.7 319.8 569.7 322.6 569.6 325.5 C569.6 328.4 569.5 331.2 569.4 334.1 C569.3 337.0 569.1 339.8 569.0 342.7 C568.8 345.6 568.6 348.5 568.3 351.3 C568.1 354.2 567.8 357.1 567.5 359.9 C567.2 362.8 566.9 365.7 566.6 368.5 C566.2 371.4 565.8 374.3 565.4 377.1 C565.0 380.0 564.5 382.8 564.0 385.7 C563.6 388.5 563.1 391.4 562.5 394.2 C562.0 397.0 561.4 399.9 560.8 402.7 C560.2 405.5 559.6 408.4 559.0 411.2 C558.3 414.0 557.6 416.8 556.9 419.6 C556.2 422.4 555.5 425.2 554.7 427.9 C554.0 430.7 553.2 433.5 552.4 436.2 C551.6 439.0 550.7 441.8 549.8 444.5 C549.0 447.2 548.1 450.0 547.2 452.7 C546.2 455.4 545.3 458.1 544.3 460.8 C543.3 463.5 542.4 466.1 541.3 468.8 C540.3 471.5 539.3 474.1 538.2 476.7 C537.1 479.4 536.0 482.0 534.9 484.6 C533.8 487.2 532.6 489.8 531.4 492.3 C530.3 494.9 529.1 497.5 527.8 500.0 C526.6 502.5 525.4 505.0 524.1 507.5 C522.9 510.0 521.6 512.5 520.2 515.0 C518.9 517.4 517.6 519.9 516.2 522.3 C514.9 524.7 513.5 527.1 512.1 529.5 C510.7 531.8 509.3 534.2 507.8 536.5 C506.4 538.9 504.9 541.2 503.4 543.4 C501.9 545.7 500.4 548.0 498.9 550.2 C497.3 552.5 495.8 554.7 494.2 556.9 C492.6 559.0 491.0 561.2 489.4 563.3 C487.8 565.5 485.3 568.6 484.5 569.7" fill="none" stroke="#f8ef00" stroke-width="8"/><path d="M436.0 239.0 C438.8 239.4 446.0 238.8 453.0 241.4 C460.0 244.0 469.6 248.6 477.9 254.7 C486.2 260.8 495.2 270.1 502.6 277.8 C510.0 285.5 515.6 292.2 522.5 301.0 C529.4 309.8 538.1 320.0 544.0 330.7 C549.9 341.4 555.0 354.6 558.0 365.0 C561.0 375.4 561.3 388.3 562.0 393.0" fill="none" stroke="#f8ef00" stroke-width="8"/><path d="M565.0 604.0 C568.1 607.9 578.5 619.2 583.6 627.4 C588.7 635.6 593.0 645.1 595.4 653.4 C597.8 661.7 598.2 668.4 597.8 677.0 C597.4 685.6 596.0 696.5 593.0 705.0 C590.0 713.5 587.8 717.8 580.0 728.0 C572.2 738.2 561.2 754.0 546.0 766.0 C530.8 778.0 504.8 792.2 489.0 800.0 C473.2 807.8 463.7 810.0 451.0 813.0 C438.3 816.0 425.5 817.7 413.0 818.0 C400.5 818.3 387.3 817.5 376.0 815.0 C364.7 812.5 353.8 808.7 345.0 803.0 C336.2 797.3 327.7 789.2 323.0 781.0 C318.3 772.8 317.0 762.2 317.0 754.0 C317.0 745.8 320.2 737.5 323.0 732.0 C325.8 726.5 332.2 722.8 334.0 721.0" fill="none" stroke="#a8a040" stroke-width="10.0" stroke-linecap="butt"/><path d="M565.0 604.0 C568.1 607.9 578.5 619.2 583.6 627.4 C588.7 635.6 593.0 645.1 595.4 653.4 C597.8 661.7 598.2 668.4 597.8 677.0 C597.4 685.6 596.0 696.5 593.0 705.0 C590.0 713.5 587.8 717.8 580.0 728.0 C572.2 738.2 561.2 754.0 546.0 766.0 C530.8 778.0 504.8 792.2 489.0 800.0 C473.2 807.8 463.7 810.0 451.0 813.0 C438.3 816.0 425.5 817.7 413.0 818.0 C400.5 818.3 387.3 817.5 376.0 815.0 C364.7 812.5 353.8 808.7 345.0 803.0 C336.2 797.3 327.7 789.2 323.0 781.0 C318.3 772.8 317.0 762.2 317.0 754.0 C317.0 745.8 320.2 737.5 323.0 732.0 C325.8 726.5 332.2 722.8 334.0 721.0" fill="none" stroke="#f8ef00" stroke-width="8" stroke-linecap="butt"/><path d="M452 604 L470 604 L440 637 L430 630 Z" fill="#f8ef00" stroke="#a8a040" stroke-width="1"/><rect x="440" y="567.5" width="151" height="38" fill="#f8ef00" stroke="#a8a040" stroke-width="1.2"/><path d="M359.0 68.0 C358.3 75.2 354.8 98.0 355.0 111.0 C355.2 124.0 357.2 135.0 360.0 146.0 C362.8 157.0 367.2 168.3 371.5 177.0 C375.8 185.7 383.6 194.5 386.0 198.0" fill="none" stroke="#c08a48" stroke-width="10.0" stroke-linecap="butt"/><path d="M359.0 68.0 C358.3 75.2 354.8 98.0 355.0 111.0 C355.2 124.0 357.2 135.0 360.0 146.0 C362.8 157.0 367.2 168.3 371.5 177.0 C375.8 185.7 383.6 194.5 386.0 198.0" fill="none" stroke="#f0a63c" stroke-width="8" stroke-linecap="butt"/><rect x="331" y="31.5" width="71.5" height="36" fill="#f0a63c" stroke="#c08a48" stroke-width="1.5"/><path d="M390.0 186.0 L388.8 201.6 L372.0 202.0" fill="none" stroke="#c08a48" stroke-width="9" stroke-linejoin="miter" stroke-miterlimit="10"/><path d="M390.0 186.0 L388.8 201.6 L372.0 202.0" fill="none" stroke="#f0a63c" stroke-width="7" stroke-linejoin="miter" stroke-miterlimit="10"/><path d="M422.0 201.0 L422.6 219.0 L440.0 219.6" fill="none" stroke="#e8022e" stroke-width="6.6" stroke-linejoin="miter" stroke-miterlimit="10"/><path d="M446.4 230.0 L433.8 238.5 L440.0 251.4" fill="none" stroke="#a8a040" stroke-width="8" stroke-linejoin="miter" stroke-miterlimit="10"/><path d="M446.4 230.0 L433.8 238.5 L440.0 251.4" fill="none" stroke="#f8ef00" stroke-width="6" stroke-linejoin="miter" stroke-miterlimit="10"/><path d="M443.0 63.0 L429.5 71.7 L431.5 86.0" fill="none" stroke="#a8a040" stroke-width="8" stroke-linejoin="miter" stroke-miterlimit="10"/><path d="M443.0 63.0 L429.5 71.7 L431.5 86.0" fill="none" stroke="#f8ef00" stroke-width="6" stroke-linejoin="miter" stroke-miterlimit="10"/><path d="M353.6 635.0 L353.8 653.0 L337.7 654.0" fill="none" stroke="#827ea4" stroke-width="8.5" stroke-linejoin="miter" stroke-miterlimit="10"/><path d="M353.6 635.0 L353.8 653.0 L337.7 654.0" fill="none" stroke="#bdb9df" stroke-width="6.5" stroke-linejoin="miter" stroke-miterlimit="10"/><path d="M328.0 685.0 L340.6 695.5 L335.0 708.0" fill="none" stroke="#8e96ac" stroke-width="8" stroke-linejoin="miter" stroke-miterlimit="10"/><path d="M328.0 685.0 L340.6 695.5 L335.0 708.0" fill="none" stroke="#d8e2f3" stroke-width="6" stroke-linejoin="miter" stroke-miterlimit="10"/><path d="M322.0 716.6 L337.3 719.6 L340.0 734.0" fill="none" stroke="#a8a040" stroke-width="9" stroke-linejoin="miter" stroke-miterlimit="10"/><path d="M322.0 716.6 L337.3 719.6 L340.0 734.0" fill="none" stroke="#f8ef00" stroke-width="7" stroke-linejoin="miter" stroke-miterlimit="10"/><g font-family="Liberation Serif, serif" font-size="25.8" fill="#161616" stroke="#161616" stroke-width="0.65"><text x="467" y="44" text-anchor="start">Hipotálamo</text><text x="337" y="58.5" text-anchor="start">GnRH</text><text x="220" y="133" text-anchor="middle">Actúa sobre la hipófisis</text><text x="220" y="158" text-anchor="middle">anterior estimulando la</text><text x="220" y="183" text-anchor="middle">producción de LH y FSH</text><text x="-26" y="226.8" text-anchor="start">Actúa sobre</text><text x="-26" y="251.95000000000002" text-anchor="start">las células de</text><text x="-26" y="277.1" text-anchor="start">Sertoli y,</text><text x="-26" y="302.25" text-anchor="start">mediante ellas,</text><text x="-26" y="327.4" text-anchor="start">sobre el</text><text x="-26" y="352.55" text-anchor="start">desarrollo de</text><text x="-26" y="377.7" text-anchor="start">espermato-</text><text x="-26" y="402.85" text-anchor="start">zoides</text><text x="408.5" y="311.2" text-anchor="middle">Hipófisis</text><text x="408.5" y="335.7" text-anchor="middle">anterior</text><text x="257.5" y="462.5" text-anchor="end">Actúa sobre</text><text x="257.5" y="487.5" text-anchor="end">las células</text><text x="257.5" y="512.5" text-anchor="end">intersticiales</text><text x="257.5" y="537.5" text-anchor="end">estimulando</text><text x="257.5" y="562.5" text-anchor="end">la producción</text><text x="257.5" y="587.5" text-anchor="end">de testosterona</text><text x="420.5" y="509" text-anchor="start">Testículo</text><text x="577.5" y="389.6" text-anchor="start">Actúa sobre el</text><text x="577.5" y="414.8" text-anchor="start">hipotálamo y</text><text x="577.5" y="440.0" text-anchor="start">la hipófisis ante-</text><text x="577.5" y="465.20000000000005" text-anchor="start">rior inhibiendo</text><text x="577.5" y="490.40000000000003" text-anchor="start">la producción</text><text x="577.5" y="515.6" text-anchor="start">y la liberación</text><text x="577.5" y="540.8" text-anchor="start">de LH</text><text x="753.2" y="324.5" text-anchor="start">Producida</text><text x="753.2" y="349.5" text-anchor="start">por las</text><text x="753.2" y="374.5" text-anchor="start">células de</text><text x="753.2" y="399.5" text-anchor="start">Sertoli; actúa</text><text x="753.2" y="424.5" text-anchor="start">sobre la</text><text x="753.2" y="449.5" text-anchor="start">hipófisis</text><text x="753.2" y="474.5" text-anchor="start">anterior</text><text x="753.2" y="499.5" text-anchor="start">inhibiendo la</text><text x="753.2" y="524.5" text-anchor="start">producción</text><text x="753.2" y="549.5" text-anchor="start">de FSH</text><text x="642" y="280.5" text-anchor="start">Inhibina</text><text x="456" y="594" text-anchor="start">Testosterona</text><text x="259" y="419.5" text-anchor="start">LH</text><text x="45.5" y="465.5" text-anchor="start">FSH</text><text x="666.6" y="792.4" text-anchor="middle">Estimula el desarrollo</text><text x="666.6" y="816.6999999999999" text-anchor="middle">de los espermatozoides</text></g><rect x="0" y="0" width="847" height="2.2" fill="#000"/><rect x="0" y="845" width="847" height="2" fill="#000"/>
</svg></body></html>
